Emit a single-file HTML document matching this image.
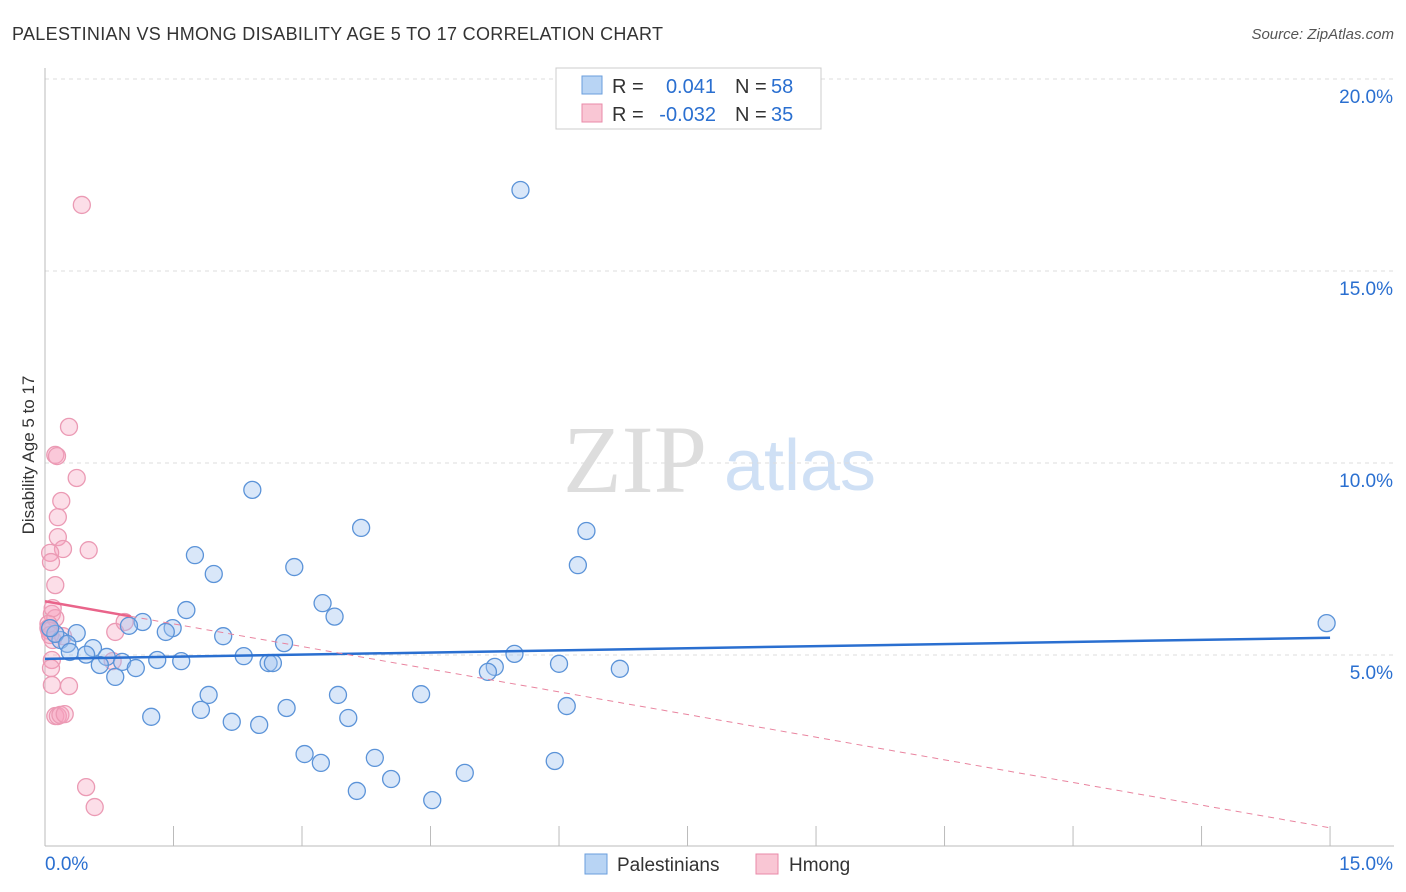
<!DOCTYPE html>
<html><head><meta charset="utf-8"><style>
body{margin:0;background:#fff;font-family:"Liberation Sans",sans-serif}
svg{display:block}
</style></head><body>
<svg id="c" width="1406" height="892" xmlns="http://www.w3.org/2000/svg">
<text x="12" y="40" font-size="18" fill="#333" textLength="651">PALESTINIAN VS HMONG DISABILITY AGE 5 TO 17 CORRELATION CHART</text>
<text x="1394" y="39" font-size="15" fill="#555" font-style="italic" text-anchor="end">Source: ZipAtlas.com</text>
<text x="635" y="492" font-size="96" fill="#ddd" font-family="Liberation Serif" text-anchor="middle">ZIP</text>
<text x="800" y="490" font-size="72" fill="#cfe0f5" text-anchor="middle">atlas</text>
<g id="grid"></g>
<g id="marks"></g>
<text x="34" y="455" font-size="17" fill="#333" text-anchor="middle" transform="rotate(-90 34 455)">Disability Age 5 to 17</text>
<g>
<rect x="556" y="68" width="265" height="61" fill="#fff" stroke="#ccc"/>
<rect x="582" y="76" width="20" height="18" fill="#b8d4f4" stroke="#6a9edc"/>
<rect x="582" y="104" width="20" height="18" fill="#f9c6d4" stroke="#e98aa8"/>
<text x="612" y="93" font-size="20" fill="#333">R =</text>
<text x="716" y="93" font-size="20" fill="#2a6fd0" text-anchor="end">0.041</text>
<text x="735" y="93" font-size="20" fill="#333">N =</text>
<text x="771" y="93" font-size="20" fill="#2a6fd0">58</text>
<text x="612" y="121" font-size="20" fill="#333">R =</text>
<text x="716" y="121" font-size="20" fill="#2a6fd0" text-anchor="end">-0.032</text>
<text x="735" y="121" font-size="20" fill="#333">N =</text>
<text x="771" y="121" font-size="20" fill="#2a6fd0">35</text>
</g>
<g>
<rect x="585" y="854" width="22" height="20" fill="#b8d4f4" stroke="#6a9edc"/>
<text x="617" y="871" font-size="19" fill="#333">Palestinians</text>
<rect x="756" y="854" width="22" height="20" fill="#f9c6d4" stroke="#e98aa8"/>
<text x="789" y="871" font-size="19" fill="#333">Hmong</text>
</g>
</svg>
<script>
const yTicks=[5,10,15,20];
const xTickLabels=["0.0%","15.0%"];
const blueX=[5.55,2.42,3.69,6.32,1.75,2.91,6.22,1.97,3.24,1.65,3.38,1.14,0.98,1.49,1.41,0.37,2.08,2.79,0.18,0.12,0.06,0.26,0.29,0.56,0.72,0.48,0.90,0.64,0.82,1.06,1.31,1.59,2.32,2.61,2.66,5.48,6.00,6.71,5.25,5.17,1.91,3.42,4.39,1.82,2.82,6.09,1.24,3.54,2.18,2.50,3.03,3.85,3.22,5.95,4.04,4.90,3.64,4.52,14.96];
const blueY=[17.11,9.30,8.31,8.23,7.60,7.29,7.34,7.11,6.35,6.17,6.00,5.86,5.76,5.70,5.60,5.57,5.49,5.31,5.39,5.55,5.70,5.29,5.08,5.18,4.95,5.01,4.82,4.74,4.43,4.66,4.87,4.84,4.97,4.79,4.79,5.03,4.77,4.64,4.69,4.56,3.96,3.96,3.98,3.57,3.62,3.67,3.39,3.36,3.26,3.18,2.42,2.32,2.19,2.24,1.77,1.93,1.46,1.22,5.83];
const pinkX=[0.43,0.28,0.12,0.14,0.37,0.19,0.15,0.15,0.21,0.51,0.06,0.07,0.12,0.08,0.12,0.04,0.05,0.09,0.82,0.93,0.21,0.08,0.07,0.08,0.28,0.12,0.15,0.18,0.23,0.48,0.58,0.04,0.06,0.79,0.09];
const pinkY=[16.72,10.94,10.21,10.18,9.61,9.01,8.59,8.07,7.76,7.73,7.66,7.42,6.82,6.07,5.96,5.81,5.63,5.39,5.60,5.86,5.49,4.87,4.66,4.22,4.19,3.41,3.41,3.44,3.46,1.56,1.04,5.70,5.52,4.84,6.22];
const blueTrend=[4.9,5.45];
const pinkTrend=[6.4,0.5];
const NS="http://www.w3.org/2000/svg";
const sx=v=>45+v*85.67, sy=v=>847-v*38.4;
const svg=document.getElementById('c'),grid=document.getElementById('grid'),marks=document.getElementById('marks');
function mk(tag,attrs,parent){const e=document.createElementNS(NS,tag);for(const k in attrs)e.setAttribute(k,attrs[k]);parent.appendChild(e);return e;}
yTicks.forEach(t=>{
 const l=mk('line',{x1:45,x2:1394,y1:sy(t),y2:sy(t),stroke:'#ddd','stroke-dasharray':'4,4'},grid);
 
 
 const tx=mk('text',{x:1393,y:sy(t)+24,'font-size':19,fill:'#2a6fd0','text-anchor':'end'},grid);tx.textContent=t.toFixed(1)+'%';
 
 
});
const ax=mk('line',{x1:45,x2:45,y1:68,y2:846,stroke:'#bbb'},grid);


const bx=mk('line',{x1:45,x2:1394,y1:846,y2:846,stroke:'#bbb'},grid);


for(let i=1;i<=10;i++){const t=mk('line',{x1:sx(i*1.5),x2:sx(i*1.5),y1:826,y2:846,stroke:'#bbb'},grid);
 
 }
xTickLabels.forEach((s,i)=>{const t=mk('text',{x:i?1393:45,y:870,'font-size':19,fill:'#2a6fd0','text-anchor':i?'end':'start'},grid);t.textContent=s;
 
 });
pinkX.forEach((x,i)=>{const c=mk('circle',{cx:sx(x),cy:sy(pinkY[i]),r:8.5,fill:'rgba(245,160,190,0.35)',stroke:'#eb9ab4','stroke-width':1.3},marks);
 
 });
blueX.forEach((x,i)=>{const c=mk('circle',{cx:sx(x),cy:sy(blueY[i]),r:8.5,fill:'rgba(160,195,240,0.4)',stroke:'#5b93d8','stroke-width':1.3},marks);
 
 });
const bl=mk('line',{x1:sx(0),y1:sy(blueTrend[0]),x2:sx(15),y2:sy(blueTrend[1]),stroke:'#2a6fd0','stroke-width':2.5},marks);


const pk=x=>pinkTrend[0]+(pinkTrend[1]-pinkTrend[0])*x/15;
const pd=mk('line',{x1:sx(1),y1:sy(pk(1)),x2:sx(15),y2:sy(pk(15)),stroke:'#e9849f','stroke-width':1,'stroke-dasharray':'6,5'},marks);


const ps=mk('line',{x1:sx(0),y1:sy(pk(0)),x2:sx(1),y2:sy(pk(1)),stroke:'#e9648a','stroke-width':2.5},marks);


</script>
</body></html>
